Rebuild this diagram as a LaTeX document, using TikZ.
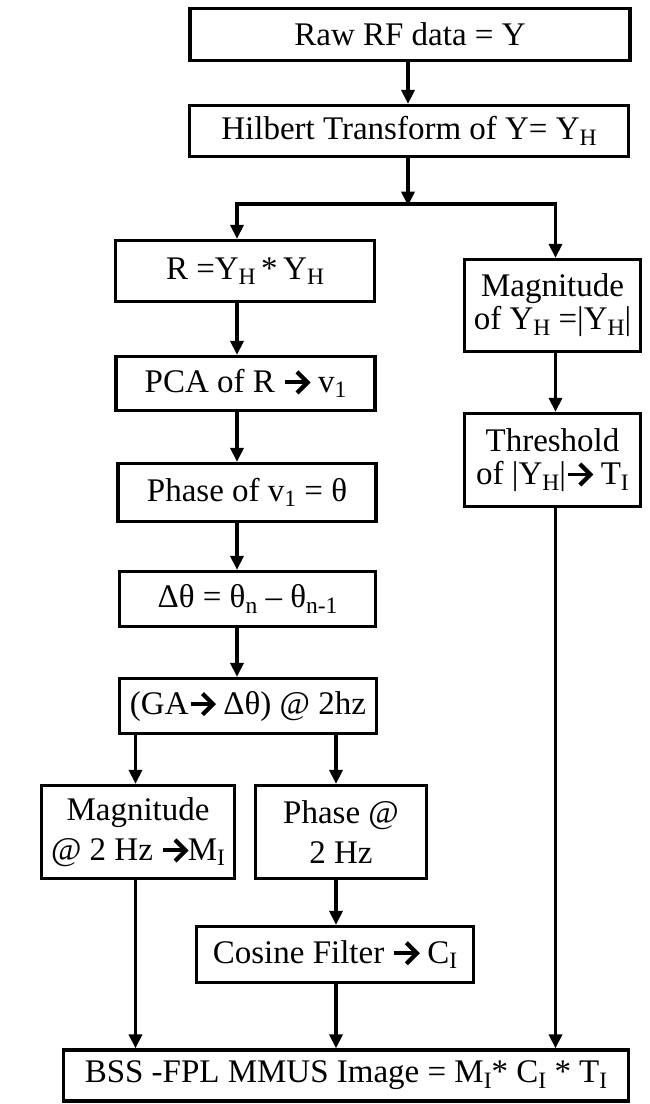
\documentclass[tikz,border=0pt]{standalone}
\usepackage{fontspec}
\setmainfont{Liberation Serif}
\usetikzlibrary{arrows.meta}
\newcommand\sbs[1]{\raisebox{-0.17em}{\fontsize{23.5pt}{23.5pt}\selectfont #1}}
\newcommand\rarr{\tikz[baseline=0pt]{\draw[line width=0.12em] (0,0.3em)--(0.62em,0.3em);\draw[line width=0.13em,miter limit=10] (0.36em,0.62em)--(0.68em,0.3em)--(0.36em,-0.02em);}}
\begin{document}
\begin{tikzpicture}[x=1pt,y=-1pt,
  box/.style={draw,line width=3.3pt,inner sep=0pt,align=center,font=\fontsize{33pt}{33pt}\selectfont},
  arr/.style={line width=3.5pt,-{Triangle[length=14pt,width=13pt]}},
  ln/.style={line width=3.3pt}]
\useasboundingbox (0,0) rectangle (650,1104);
% column coordinates
\coordinate (cm) at (408,0);
\coordinate (cl) at (237,0);
\coordinate (cr) at (555.5,0);
\coordinate (ca) at (135.5,0);
\coordinate (cb) at (336,0);
\coordinate (split) at (408,204);
% boxes
\node[box,minimum width=440pt,minimum height=52pt] (raw) at (410,34.5) {Raw RF data = Y};
\node[box,minimum width=439pt,minimum height=51pt] (hil) at (409,131) {Hilbert Transform of Y= Y\sbs{H}};
\node[box,minimum width=259pt,minimum height=61pt] (R) at (245,271) {R =Y\sbs{H}\,*\,Y\sbs{H}};
\node[box,minimum width=259pt,minimum height=54pt] (pca) at (245.5,383.5) {PCA of R \rarr\ v\sbs{1}};
\node[box,minimum width=258pt,minimum height=58pt] (ph) at (247,492.5) {Phase of v\sbs{1} = θ};
\node[box,minimum width=256pt,minimum height=55pt] (dt) at (247.5,599) {Δθ = θ\sbs{n} – θ\sbs{n-1}};
\node[box,minimum width=257pt,minimum height=55pt] (ga) at (248,706) {(GA\rarr\ Δθ) @ 2hz};
\node[box,minimum width=176pt,minimum height=92pt] (mag) at (552.5,305.5) {Magnitude\\of Y\sbs{H} =|Y\sbs{H}|};
\node[box,minimum width=176pt,minimum height=93pt] (thr) at (552.5,460) {Threshold\\of |Y\sbs{H}|\rarr\ T\sbs{I}};
\node[box,minimum width=193pt,minimum height=93pt,font=\fontsize{33pt}{40pt}\selectfont] (mag2) at (138,832) {Magnitude\\@ 2 Hz \rarr M\sbs{I}};
\node[box,minimum width=171pt,minimum height=93pt,font=\fontsize{33pt}{40pt}\selectfont] (ph2) at (341,832) {Phase @\\2 Hz};
\node[box,minimum width=277pt,minimum height=56pt] (cos) at (335,954.5) {Cosine Filter \rarr\ C\sbs{I}};
\node[box,minimum width=565pt,minimum height=51pt] (bss) at (346,1075.5) {BSS -FPL MMUS Image = M\sbs{I}* C\sbs{I} * T\sbs{I}};
% connectors
\draw[arr] (raw.south -| cm) -- (hil.north -| cm);
\draw[arr] (hil.south -| cm) -- ([yshift=-1.6pt]split);
\draw[arr] (split) -| (R.north -| cl);
\draw[arr] (split) -| (mag.north -| cr);
\draw[arr] (R.south -| cl) -- (pca.north -| cl);
\draw[arr] (pca.south -| cl) -- (ph.north -| cl);
\draw[arr] (ph.south -| cl) -- (dt.north -| cl);
\draw[arr] (dt.south -| cl) -- (ga.north -| cl);
\draw[arr] (mag.south -| cr) -- (thr.north -| cr);
\draw[arr] (ga.south -| ca) -- (mag2.north -| ca);
\draw[arr] (ga.south -| cb) -- (ph2.north -| cb);
\draw[arr] (ph2.south -| cb) -- (cos.north -| cb);
\draw[arr] (cos.south -| cb) -- (bss.north -| cb);
\draw[arr] (mag2.south -| ca) -- (bss.north -| ca);
\draw[arr] (thr.south -| cr) -- (bss.north -| cr);
\end{tikzpicture}
\end{document}
